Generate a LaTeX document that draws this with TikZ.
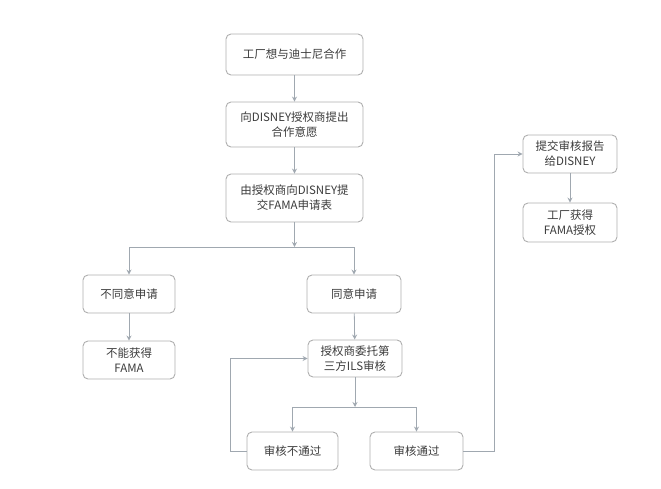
\documentclass[tikz,border=0pt]{standalone}
\usepackage{fontspec}
\setmainfont{Noto Sans CJK SC}
\usetikzlibrary{arrows.meta}
\definecolor{boxline}{RGB}{175,175,175}
\definecolor{conn}{RGB}{160,168,176}
\definecolor{txt}{RGB}{60,60,60}
\begin{document}
\begin{tikzpicture}[x=1pt,y=-1pt,
  box/.style={draw=boxline,line width=0.9pt,rounded corners=5pt,fill=white,
    text=txt,font=\fontsize{11.5}{15}\selectfont,align=center,inner sep=0pt,
    minimum width=#1},
  box/.default=93pt,
  conn/.style={draw=conn,line width=0.8pt},
  arr/.style={conn,-{Stealth[length=5pt,width=5pt,open]}}]
\useasboundingbox (0,0) rectangle (661,489);
\node[box=137pt,minimum height=41pt] (b1) at (294.5,54.5) {工厂想与迪士尼合作};
\node[box=137pt,minimum height=45pt] (b2) at (294.5,124.5) {向DISNEY授权商提出\\合作意愿};
\node[box=137pt,minimum height=48pt] (b3) at (294.5,198) {由授权商向DISNEY提\\交FAMA申请表};
\node[box=92pt,minimum height=38pt] (nl) at (129,294) {不同意申请};
\node[box=94pt,minimum height=38pt] (ny) at (354,294) {同意申请};
\node[box=92pt,minimum height=38pt] (nf) at (129,360) {不能获得\\FAMA};
\node[box=94pt,minimum height=37pt] (ils) at (355,358.5) {授权商委托第\\三方ILS审核};
\node[box=91pt,minimum height=38pt] (fail) at (292.5,451) {审核不通过};
\node[box=93pt,minimum height=38pt] (pass) at (416.5,451) {审核通过};
\node[box=94pt,minimum height=38pt] (rep) at (570,154) {提交审核报告\\给DISNEY};
\node[box=94pt,minimum height=39pt] (grant) at (570,222.5) {工厂获得\\FAMA授权};
\coordinate (j1) at (294.5,247);
\coordinate (j1l) at (129,247);
\coordinate (j1r) at (354,247);
\coordinate (j2) at (355,407);
\coordinate (j2l) at (292.5,407);
\coordinate (j2r) at (416.5,407);
\coordinate (lpA) at (230,451);
\coordinate (lpB) at (230,358.5);
\coordinate (rpA) at (494,451);
\coordinate (rpB) at (494,154);
\draw[arr] (b1) -- (b2);
\draw[arr] (b2) -- (b3);
\draw[arr] (b3) -- (j1);
\draw[conn] (j1l) -- (j1r);
\draw[arr] (j1l) -- (nl);
\draw[arr] (j1r) -- (ny);
\draw[arr] (nl) -- (nf);
\draw[arr] (ny) -- (ils);
\draw[arr] (ils) -- (j2);
\draw[conn] (j2l) -- (j2r);
\draw[arr] (j2l) -- (fail);
\draw[arr] (j2r) -- (pass);
\draw[arr] (fail.west) -- (lpA) -- (lpB) -- (ils.west);
\draw[arr] (pass.east) -- (rpA) -- (rpB) -- (rep.west);
\draw[arr] (rep) -- (grant);
\end{tikzpicture}
\end{document}
